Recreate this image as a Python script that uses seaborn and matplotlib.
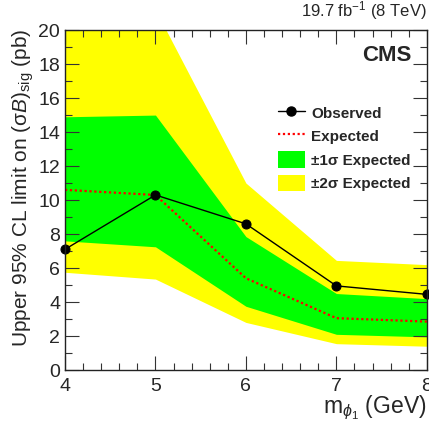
import matplotlib
matplotlib.use("Agg")
import matplotlib.pyplot as plt
import seaborn as sns
import pandas as pd
from matplotlib.lines import Line2D
from matplotlib.patches import Patch
from matplotlib.ticker import MultipleLocator

mass = [4, 5, 6, 7, 8]
observed = [7.1, 10.3, 8.6, 4.95, 4.45]
expected = [10.6, 10.3, 5.4, 3.05, 2.85]
sig1_lo = [7.6, 7.25, 3.75, 2.1, 1.95]
sig1_hi = [14.9, 15.0, 7.85, 4.5, 4.2]
sig2_lo = [5.75, 5.35, 2.8, 1.55, 1.4]
sig2_hi = [22.0, 21.2, 11.0, 6.45, 6.2]

sns.set_style("ticks")
plt.rcParams['font.family'] = ['Liberation Sans', 'DejaVu Sans']
plt.rcParams['mathtext.fontset'] = 'custom'
plt.rcParams['mathtext.rm'] = 'Liberation Sans'
plt.rcParams['mathtext.it'] = 'Liberation Sans:italic'
plt.rcParams['mathtext.bf'] = 'Liberation Sans:bold'

df = pd.DataFrame({"mass": mass, "observed": observed, "expected": expected})

fig = plt.figure(figsize=(4.29, 4.30), dpi=100)
ax = fig.add_axes([0.1515, 0.1395, 0.8435, 0.7905])

ax.fill_between(mass, sig2_lo, sig2_hi, color="#FFFF00", lw=0, zorder=1)
ax.fill_between(mass, sig1_lo, sig1_hi, color="#00FF00", lw=0, zorder=2)
sns.lineplot(data=df, x="mass", y="expected", ax=ax, color="red", lw=1.6,
             linestyle=(0, (1, 1.2)), zorder=3)
sns.lineplot(data=df, x="mass", y="observed", ax=ax, color="black", lw=1.0,
             marker="o", markersize=6.5, markeredgecolor="black", zorder=4,
             clip_on=False)

ax.set_xlim(4, 8)
ax.set_ylim(0, 20)
ax.xaxis.set_major_locator(MultipleLocator(1))
ax.xaxis.set_minor_locator(MultipleLocator(0.2))
ax.yaxis.set_major_locator(MultipleLocator(2))
ax.yaxis.set_minor_locator(MultipleLocator(1))
ax.tick_params(which="both", direction="in", top=True, right=True, labelsize=14,
               color="#333333", width=0.8)
ax.tick_params(which="major", length=10)
ax.tick_params(which="minor", length=5)
ax.tick_params(axis="x", pad=6)
for s in ax.spines.values():
    s.set_linewidth(1.0)
    s.set_color("#222222")
    s.set_zorder(10)
ax.set_axisbelow(False)

ax.set_xlabel(r"m$_{\phi_1}$ (GeV)", fontsize=16.5, ha="right")
ax.xaxis.set_label_coords(1.0, -0.07)
ax.set_ylabel(r"Upper 95% CL limit on (σ$B$)$_{\rm sig}$ (pb)", fontsize=15)
ax.yaxis.set_label_coords(-0.08, 0.535)

fig.text(0.995, 0.948, r"19.7 fb$^{-1}$ (8 TeV)", ha="right", va="bottom", fontsize=12)
ax.text(0.958, 0.926, "CMS", transform=ax.transAxes, ha="right", va="center",
        fontsize=16, fontweight="bold")

handles = [
    Line2D([], [], color="black", lw=1.0, marker="o", markersize=6.5),
    Line2D([], [], color="red", lw=1.6, linestyle=(0, (1, 1.2))),
    Patch(facecolor="#00FF00", edgecolor="none"),
    Patch(facecolor="#FFFF00", edgecolor="none"),
]
labels = ["Observed", "Expected", "±1σ Expected", "±2σ Expected"]
leg = ax.legend(handles, labels, loc="upper left", bbox_to_anchor=(0.571, 0.80),
                frameon=False, prop={"weight": "bold", "size": 11},
                handlelength=1.8, handleheight=1.3, handletextpad=0.4,
                labelspacing=0.45, borderaxespad=0)

fig.savefig("out.png", dpi=100)
